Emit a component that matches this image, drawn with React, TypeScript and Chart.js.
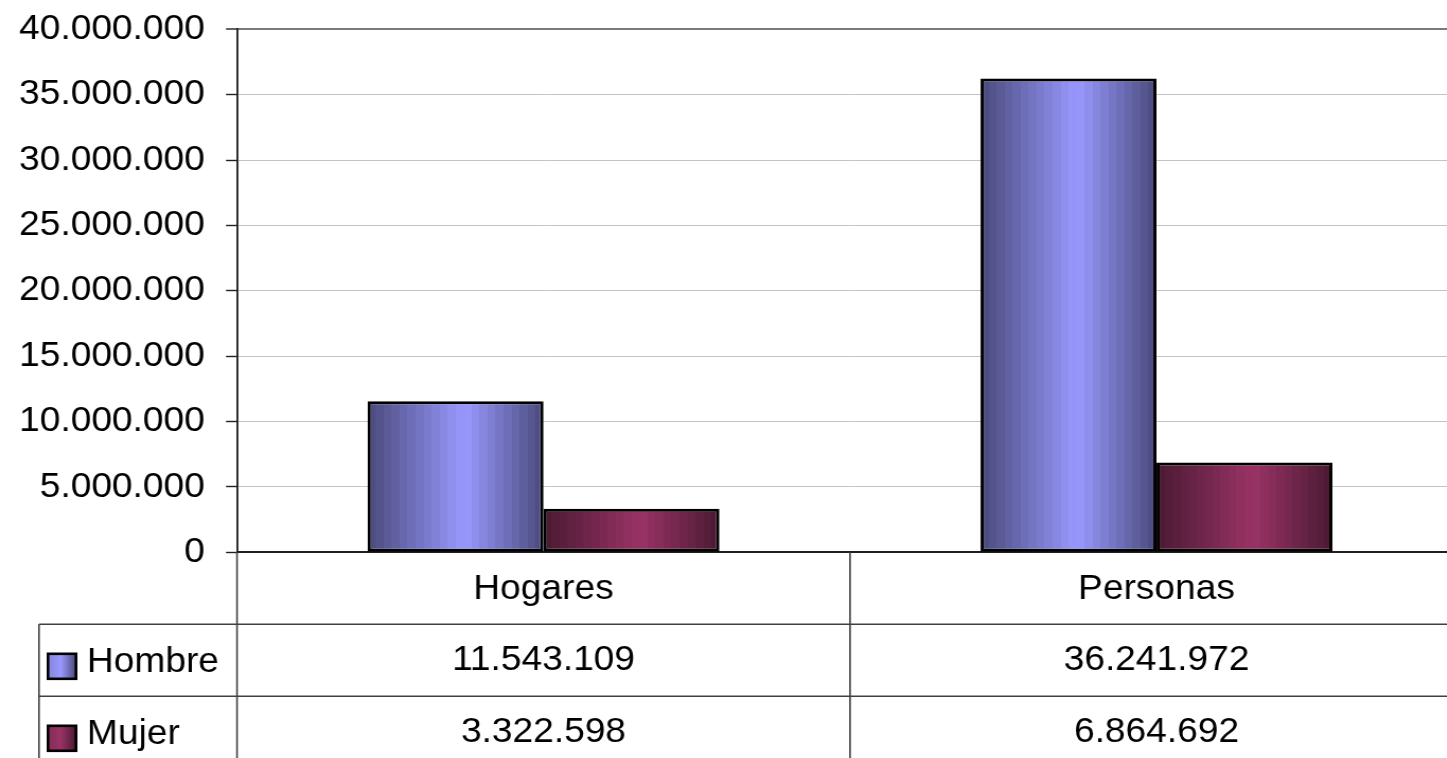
import React, { useEffect, useRef } from 'react';
import { Chart, registerables } from 'chart.js';

Chart.register(...registerables);

// ---- data ----
const categories = ['Hogares', 'Personas'];
const seriesNames = ['Hombre', 'Mujer'];
const hombreValues = [11543109, 36241972];
const mujerValues = [3322598, 6864692];
const yMin = 0;
const yMax = 40000000;
const yStep = 5000000;

// ---- styling ----
const SX = 1.06; // horizontal stretch of the whole picture
const W = 1400;
const H = 790;
const FONT = '"Liberation Sans", Arial, Helvetica, sans-serif';
const FS = 35;
const CAT_PCT = 0.574;
const Y_AXIS_W = 237 / SX;
const PLOT_RIGHT = 1463 / SX;
const PLOT_TOP = 29.3;
const X_AXIS_H = 72;
const TABLE_LEFT = 39 / SX;
const LINE = '#404040';
const BANDS = 22;
const PEAK = 0.55;

const palettes = [
  { dark: [74, 74, 124], light: [153, 153, 255] },
  { dark: [74, 26, 50], light: [153, 51, 102] },
];

const fmt = (v: number) =>
  Math.round(v)
    .toString()
    .replace(/\B(?=(\d{3})+(?!\d))/g, '.');

function mix(a: number[], b: number[], t: number) {
  const c = a.map((v, i) => Math.round(v + (b[i] - v) * t));
  return `rgb(${c[0]},${c[1]},${c[2]})`;
}

function bandedGradient(ctx: CanvasRenderingContext2D, left: number, width: number, p: any) {
  const g = ctx.createLinearGradient(left, 0, left + width, 0);
  for (let k = 0; k < BANDS; k++) {
    const s = k / BANDS;
    const e = (k + 1) / BANDS;
    const m = (s + e) / 2;
    const t = m <= PEAK ? m / PEAK : (1 - m) / (1 - PEAK);
    const col = mix(p.dark, p.light, Math.max(0, Math.min(1, t)));
    g.addColorStop(s, col);
    g.addColorStop(e, col);
  }
  return g;
}

function barFill(c: any) {
  const p = palettes[c.datasetIndex % palettes.length];
  const chart = c.chart;
  const x = chart.scales && chart.scales.x;
  if (!x || c.type !== 'data' || !x.width) return mix(p.light, p.light, 0);
  const n = chart.data.labels.length;
  const cat = x.width / n;
  const group = cat * CAT_PCT;
  const bw = group / chart.data.datasets.length;
  const left = x.getPixelForValue(c.dataIndex) - group / 2 + c.datasetIndex * bw;
  return bandedGradient(chart.ctx, left, bw, p);
}

const tablePlugin = {
  id: 'dataTable',
  afterDraw(chart: any) {
    const ctx = chart.ctx;
    const x = chart.scales.x;
    const y = chart.scales.y;
    const n = chart.data.labels.length;
    const cat = x.width / n;
    const rowH = x.bottom - x.top;
    const datasets = chart.data.datasets;
    const tableTop = x.bottom;
    const tableBottom = tableTop + rowH * datasets.length;

    ctx.save();
    // grid of the table
    ctx.strokeStyle = LINE;
    ctx.lineWidth = 1.6;
    ctx.beginPath();
    for (let r = 0; r < datasets.length; r++) {
      const yy = tableTop + r * rowH;
      ctx.moveTo(TABLE_LEFT, yy);
      ctx.lineTo(x.right, yy);
    }
    ctx.moveTo(TABLE_LEFT, tableTop);
    ctx.lineTo(TABLE_LEFT, tableBottom);
    for (let i = 0; i <= n; i++) {
      const xx = x.left + i * cat;
      ctx.moveTo(xx, i === 0 ? y.bottom : x.top);
      ctx.lineTo(xx, tableBottom);
    }
    ctx.stroke();

    // legend keys, names and values
    ctx.font = `${FS}px ${FONT}`;
    ctx.fillStyle = '#000';
    ctx.textBaseline = 'middle';
    datasets.forEach((ds: any, r: number) => {
      const cy = tableTop + r * rowH + rowH / 2;
      const p = palettes[r % palettes.length];
      const kx = 48 / SX;
      const kw = 28 / SX;
      const kh = 25;
      const ky = cy + 6 - kh / 2;
      const g = ctx.createLinearGradient(kx, 0, kx + kw, 0);
      g.addColorStop(0, mix(p.dark, p.light, 0.75));
      g.addColorStop(0.45, mix(p.dark, p.light, 1));
      g.addColorStop(1, mix(p.dark, p.light, 0));
      ctx.fillStyle = g;
      ctx.fillRect(kx, ky, kw, kh);
      ctx.strokeStyle = '#000';
      ctx.lineWidth = 2.6;
      ctx.strokeRect(kx, ky, kw, kh);

      ctx.fillStyle = '#000';
      ctx.textAlign = 'left';
      ctx.fillText(ds.label, 87 / SX, cy + 2);

      ctx.textAlign = 'center';
      ds.data.forEach((v: number, i: number) => {
        ctx.fillText(fmt(v), x.getPixelForValue(i), cy);
      });
    });
    ctx.restore();
  },
};

export default function App() {
  const ref = useRef<HTMLCanvasElement | null>(null);

  useEffect(() => {
    if (!ref.current) return;
    const chart = new Chart(ref.current, {
      type: 'bar',
      data: {
        labels: categories,
        datasets: [
          {
            label: seriesNames[0],
            data: hombreValues,
            backgroundColor: barFill,
            borderColor: '#000',
            borderWidth: 3,
            borderSkipped: false,
          },
          {
            label: seriesNames[1],
            data: mujerValues,
            backgroundColor: barFill,
            borderColor: '#000',
            borderWidth: 3,
            borderSkipped: false,
          },
        ],
      },
      options: {
        animation: false,
        responsive: false,
        maintainAspectRatio: false,
        events: [],
        datasets: {
          bar: { categoryPercentage: CAT_PCT, barPercentage: 1 },
        },
        layout: {
          padding: {
            left: 0,
            top: PLOT_TOP,
            right: W - PLOT_RIGHT,
            bottom: H - (552.3 + X_AXIS_H),
          },
        },
        plugins: {
          legend: { display: false },
          tooltip: { enabled: false },
          title: { display: false },
        },
        scales: {
          x: {
            grid: { display: false },
            border: { display: true, color: '#202020', width: 2 },
            ticks: {
              color: '#000',
              font: { family: FONT, size: FS },
              padding: 8,
              maxRotation: 0,
              autoSkip: false,
            },
            afterFit: (s: any) => {
              s.height = X_AXIS_H;
              s.paddingLeft = 0;
              s.paddingRight = 0;
            },
          },
          y: {
            min: yMin,
            max: yMax,
            border: { display: true, color: '#202020', width: 2 / SX },
            grid: {
              color: (c: any) => (c.tick && c.tick.value === yMax ? '#7a7a7a' : '#c4c4c4'),
              lineWidth: (c: any) => (c.tick && c.tick.value === yMax ? 2 : 1),
              tickColor: '#202020',
              tickLength: 10.4,
              tickWidth: 1.4,
            },
            ticks: {
              stepSize: yStep,
              color: '#000',
              font: { family: FONT, size: FS },
              padding: 20,
              callback: (v: any) => fmt(Number(v)),
            },
            afterFit: (s: any) => {
              s.width = Y_AXIS_W;
              s.paddingTop = 0;
              s.paddingBottom = 0;
            },
          },
        },
      },
      plugins: [tablePlugin],
    });
    return () => chart.destroy();
  }, []);

  return (
    <div
      style={{
        position: 'absolute',
        left: 0,
        top: 0,
        width: 1447,
        height: 758,
        overflow: 'hidden',
        background: '#fff',
      }}
    >
      <canvas
        ref={ref}
        width={W}
        height={H}
        style={{ display: 'block', transform: `scaleX(${SX})`, transformOrigin: '0 0' }}
      />
    </div>
  );
}
